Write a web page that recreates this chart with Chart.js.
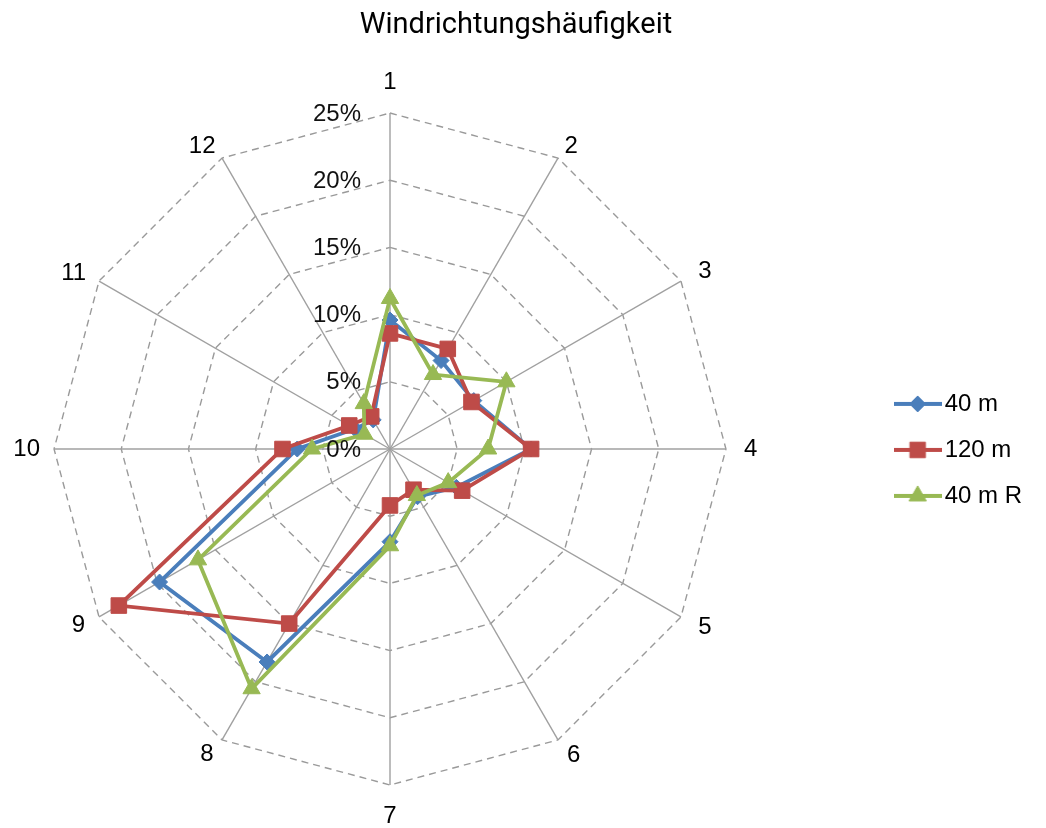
<!DOCTYPE html>
<html>
<head>
<meta charset="utf-8">
<title>Windrichtungshäufigkeit</title>
<script src="https://cdn.jsdelivr.net/npm/chart.js@4/dist/chart.umd.min.js"></script>
<style>
  html, body { margin: 0; padding: 0; background: #ffffff; }
  #wrap { width: 1046px; height: 828px; }
</style>
</head>
<body>
<div id="wrap"><canvas id="chart" width="1046" height="828"></canvas></div>
<script>
// Wind direction sectors and relative frequencies (%)
const DIRECTIONS = ['1', '2', '3', '4', '5', '6', '7', '8', '9', '10', '11', '12'];
const SERIES_NAMES = ['40 m', '120 m', '40 m R'];
const FREQ_40M   = [9.6, 7.6, 7.2, 10.5, 5.7, 4.1, 6.9, 18.3, 19.8, 6.9, 3.0, 2.5];
const FREQ_120M  = [8.6, 8.6, 7.0, 10.5, 6.2, 3.5, 4.2, 15.0, 23.3, 8.0, 3.5, 2.8];
const FREQ_40M_R = [11.2, 6.4, 10.0, 7.3, 5.0, 4.0, 7.2, 20.6, 16.5, 5.8, 2.2, 3.9];
const RING_VALUES = [0, 5, 10, 15, 20, 25];
const TICK_LABELS = ['0%', '5%', '10%', '15%', '20%', '25%'];

const FONT = '"Liberation Sans", Arial, sans-serif';
const BLUE = '#4A7EBB';
const RED = '#BE4B48';
const GREEN = '#98B954';
const PLOT_WIDTH = 772;
// gap between the outer ring and each direction label, clockwise from "1"
const LABEL_GAPS = [31, 13, 20, 18, 20, 18, 31, 17, 16, 14, 15, 13];

// Legend swatch: a short line with the series marker in the middle
function legendSwatch(ds) {
  const c = document.createElement('canvas');
  c.width = 48; c.height = 24;
  const g = c.getContext('2d');
  g.strokeStyle = ds.borderColor;
  g.lineWidth = ds.borderWidth;
  g.beginPath(); g.moveTo(0, 12); g.lineTo(48, 12); g.stroke();
  g.fillStyle = ds.pointBackgroundColor;
  g.strokeStyle = ds.pointBorderColor;
  g.lineWidth = 1;
  Chart.helpers.drawPoint(g, { pointStyle: ds.pointStyle, radius: ds.pointRadius, rotation: 0, borderWidth: 1 }, 24, 12);
  return c;
}

// Percent labels drawn to the left of the vertical axis
const ringLabels = {
  id: 'ringLabels',
  afterDatasetsDraw(chart) {
    const s = chart.scales.r;
    const ctx = chart.ctx;
    ctx.save();
    ctx.font = '24px ' + FONT;
    ctx.fillStyle = '#111111';
    ctx.textAlign = 'right';
    ctx.textBaseline = 'middle';
    s.ticks.forEach(t => {
      const d = s.getDistanceFromCenterForValue(t.value);
      ctx.fillText(t.label, s.xCenter - 29, s.yCenter - d + 1);
    });
    ctx.restore();
  }
};

function series(label, data, color, style, radius, order) {
  return {
    label, data, order,
    borderColor: color,
    backgroundColor: color,
    borderWidth: 3.8,
    fill: false,
    tension: 0,
    pointStyle: style,
    pointRadius: radius,
    pointHoverRadius: radius,
    pointBackgroundColor: color,
    pointBorderColor: color,
    pointBorderWidth: 1
  };
}

new Chart(document.getElementById('chart'), {
  type: 'radar',
  data: {
    labels: DIRECTIONS,
    datasets: [
      series(SERIES_NAMES[0], FREQ_40M, BLUE, 'rectRot', 8, 3),
      series(SERIES_NAMES[1], FREQ_120M, RED, 'rect', 11, 2),
      series(SERIES_NAMES[2], FREQ_40M_R, GREEN, 'triangle', 10, 1)
    ]
  },
  plugins: [ringLabels],
  options: {
    responsive: false,
    animation: false,
    devicePixelRatio: 1,
    layout: { padding: { left: 0, right: 14, top: 0, bottom: 10 } },
    plugins: {
      title: {
        display: true,
        text: 'Windrichtungshäufigkeit',
        color: '#000000',
        font: { family: 'Roboto, "DejaVu Sans", sans-serif', size: 29, weight: 'normal', lineHeight: 1.2 },
        padding: { top: 8, bottom: 39 }
      },
      legend: {
        position: 'right',
        fullSize: false,
        labels: {
          usePointStyle: true,
          pointStyleWidth: 30,
          padding: 22,
          color: '#000000',
          font: { family: FONT, size: 24 },
          sort: (a, b) => a.datasetIndex - b.datasetIndex,
          generateLabels(chart) {
            const items = Chart.defaults.plugins.legend.labels.generateLabels(chart);
            items.forEach(it => { it.pointStyle = legendSwatch(chart.data.datasets[it.datasetIndex]); });
            return items;
          }
        }
      },
      tooltip: { enabled: false }
    },
    scales: {
      r: {
        min: 0,
        max: 25,
        beginAtZero: true,
        // keep the polygon in the left part, with free space before the legend
        afterSetDimensions(scale) {
          scale.width = PLOT_WIDTH;
          scale.right = scale.left + PLOT_WIDTH;
          scale.xCenter = Math.floor(scale.left + PLOT_WIDTH / 2);
          scale.drawingArea = Math.floor(Math.min(scale.width, scale.height) / 2);
        },
        ticks: {
          display: false,
          stepSize: 5,
          callback: (v) => TICK_LABELS[RING_VALUES.indexOf(v)]
        },
        grid: { circular: false, color: '#9A9A9A', lineWidth: 1.4 },
        border: { dash: [7, 5] },
        angleLines: { display: true, color: '#A0A0A0', lineWidth: 1.4 },
        pointLabels: {
          display: true,
          padding: (ctx) => LABEL_GAPS[ctx.index],
          color: '#000000',
          font: { family: FONT, size: 24, lineHeight: 0.01 }
        }
      }
    }
  }
});
</script>
</body>
</html>
